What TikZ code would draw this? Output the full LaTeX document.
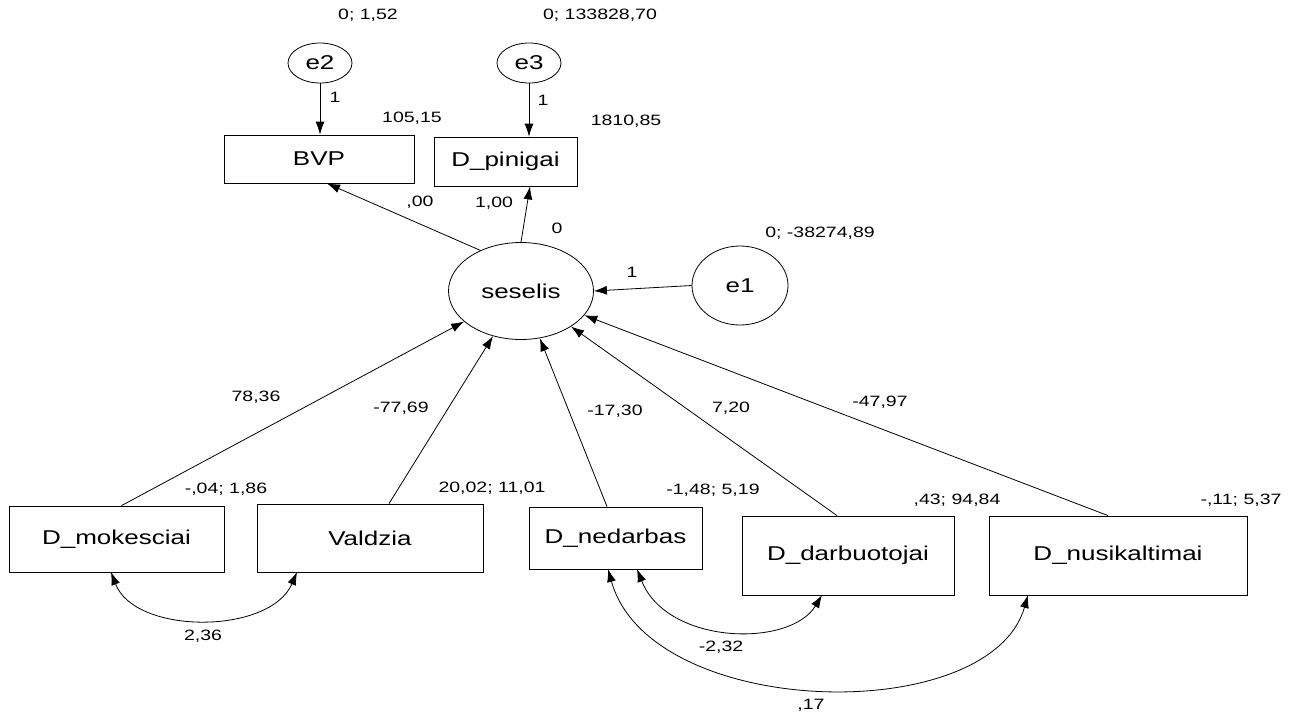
\documentclass[tikz,border=0pt]{standalone}
\usepackage{fontspec}
\setmainfont{Liberation Sans}[FakeStretch=1.3]
\usetikzlibrary{arrows.meta,shapes.geometric}

\begin{document}
\begin{tikzpicture}[x=1pt,y=-1pt,line width=0.8pt,
  obs/.style={draw, rectangle, inner sep=0pt, font=\fontsize{20}{24}\selectfont},
  lat/.style={draw, ellipse, inner sep=0pt, font=\fontsize{20}{24}\selectfont},
  val/.style={inner sep=0pt, font=\fontsize{15}{18}\selectfont},
  reg/.style={-{Latex[length=13pt,width=9pt]}},
  cov/.style={{Latex[length=13pt,width=9pt]}-{Latex[length=13pt,width=9pt]}}
]
\useasboundingbox[fill=white] (0,0) rectangle (1306,718);

% latent variables and error terms
\node[lat, minimum width=64pt, minimum height=40pt] (e2) at (320,63) {e2};
\node[lat, minimum width=64pt, minimum height=40pt] (e3) at (529,63) {e3};
\node[lat, minimum width=145pt, minimum height=97pt] (seselis) at (521,291) {seselis};
\node[lat, minimum width=96pt, minimum height=79pt] (e1) at (740,285.5) {e1};

% observed variables
\node[obs, minimum width=190pt, minimum height=48pt] (BVP) at (319,159) {BVP};
\node[obs, minimum width=143pt, minimum height=49pt] (pin) at (505.5,161.5) {D\_pinigai};
\node[obs, minimum width=215pt, minimum height=66pt] (mok) at (116.5,539) {D\_mokesciai};
\node[obs, minimum width=226pt, minimum height=68pt] (val) at (370,538) {Valdzia};
\node[obs, minimum width=173pt, minimum height=62pt] (ned) at (615.5,538) {D\_nedarbas};
\node[obs, minimum width=212pt, minimum height=79pt] (darb) at (848,555.5) {D\_darbuotojai};
\node[obs, minimum width=258pt, minimum height=79pt] (nus) at (1118,555.5) {D\_nusikaltimai};

% regression paths
\draw[reg] (e2.south) -- (e2.south |- BVP.north);
\draw[reg] (e3.south) -- (e3.south |- pin.north);
\draw[reg] (seselis.135) -- ([xshift=8pt]BVP.south);
\draw[reg] (seselis.north) -- ([xshift=24.5pt]pin.south);
\draw[reg] (e1.west) -- (seselis.east);
\draw[reg] ([xshift=5pt]mok.north) -- (seselis);
\draw[reg] ([xshift=19pt]val.north) -- (seselis);
\draw[reg] ([xshift=-8.5pt]ned.north) -- (seselis);
\draw[reg] ([xshift=-11pt]darb.north) -- (seselis);
\draw[reg] ([xshift=-10pt]nus.north) -- (seselis);

% covariances
\coordinate (mokB) at (111,572);
\coordinate (valB) at (297,572);
\coordinate (nedB1) at (608,569);
\coordinate (nedB2) at (637,569);
\coordinate (darbB) at (822,595);
\coordinate (nusB) at (1028,595);
\draw[cov] (mokB) .. controls (135,635) and (270,635) .. (valB);
\draw[cov] (nedB2) .. controls (667,645) and (790,648) .. (darbB);
\draw[cov] (nedB1) .. controls (650,720) and (990,728) .. (nusB);

% estimates
\node[val] (v1) at (368,15) {0; 1,52};
\node[val] (v2) at (600,15) {0; 133828,70};
\node[val] (v3) at (335,97) {1};
\node[val] (v4) at (543,100) {1};
\node[val] (v5) at (412,118) {105,15};
\node[val] (v6) at (626,121) {1810,85};
\node[val] (v7) at (420,202) {,00};
\node[val] (v8) at (494,203) {1,00};
\node[val] (v9) at (557,228) {0};
\node[val] (v10) at (632,272) {1};
\node[val] (v11) at (820,233) {0; -38274,89};
\node[val] (v12) at (256,397) {78,36};
\node[val] (v13) at (401,408) {-77,69};
\node[val] (v14) at (615,411) {-17,30};
\node[val] (v15) at (731,408) {7,20};
\node[val] (v16) at (880,402) {-47,97};
\node[val] (v17) at (226,489) {-,04; 1,86};
\node[val] (v18) at (492,488) {20,02; 11,01};
\node[val] (v19) at (713,490) {-1,48; 5,19};
\node[val] (v20) at (957,500) {,43; 94,84};
\node[val] (v21) at (1241,500) {-,11; 5,37};
\node[val] (v22) at (203,636) {2,36};
\node[val] (v23) at (721,647) {-2,32};
\node[val] (v24) at (811,705) {,17};
\end{tikzpicture}
\end{document}
